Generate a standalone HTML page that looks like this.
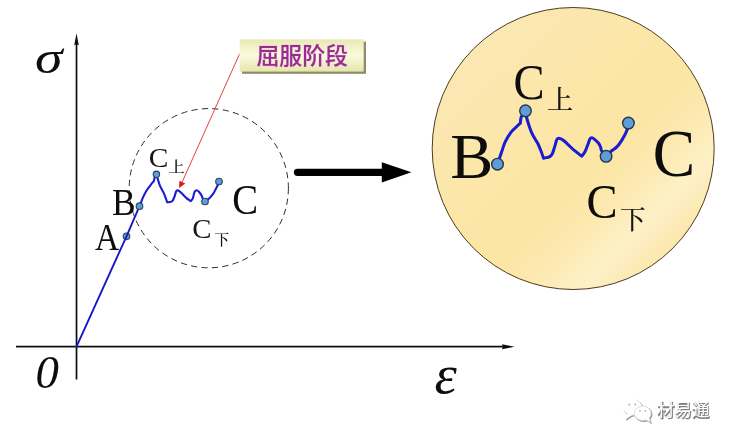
<!DOCTYPE html>
<html lang="zh-CN">
<head>
<meta charset="utf-8">
<title>屈服阶段</title>
<style>
html,body{margin:0;padding:0;background:#fff;}
body{width:734px;height:443px;overflow:hidden;position:relative;}
svg{position:absolute;left:0;top:0;display:block;}
.ser{font-family:"Liberation Serif","Noto Serif CJK SC",serif;}
.seri{font-family:"Liberation Serif","Noto Serif CJK SC",serif;font-style:italic;}
.cjk{font-family:"Noto Serif CJK SC","Liberation Serif",serif;font-weight:500;}
.sans{font-family:"Liberation Sans","Noto Sans CJK SC",sans-serif;}
</style>
</head>
<body>
<svg width="734" height="443" viewBox="0 0 734 443">
  <defs>
    <linearGradient id="gold" x1="0" y1="0" x2="1" y2="1">
      <stop offset="0" stop-color="#fbe8b6"/>
      <stop offset="0.22" stop-color="#fbe7b0"/>
      <stop offset="0.4" stop-color="#fce6a8"/>
      <stop offset="0.58" stop-color="#fce6a5"/>
      <stop offset="0.68" stop-color="#fdeab3"/>
      <stop offset="0.76" stop-color="#fef1c8"/>
      <stop offset="0.84" stop-color="#fce8b0"/>
      <stop offset="0.92" stop-color="#f9dd98"/>
      <stop offset="1" stop-color="#f6d88c"/>
    </linearGradient>
    <linearGradient id="box" x1="0" y1="0" x2="0" y2="1">
      <stop offset="0" stop-color="#e9e8b4"/>
      <stop offset="0.5" stop-color="#fbfbdc"/>
      <stop offset="1" stop-color="#e6e4ad"/>
    </linearGradient>
    <filter id="soft" x="-5%" y="-5%" width="110%" height="110%"><feGaussianBlur stdDeviation="0.35"/></filter>
  </defs>
  <rect width="734" height="443" fill="#ffffff"/>

  <!-- big circle -->
  <circle cx="573.2" cy="148.5" r="141" fill="url(#gold)" stroke="#4a3d1c" stroke-width="1"/>

  <!-- axes -->
  <g filter="url(#soft)">
  <line x1="76.5" y1="44" x2="76.5" y2="379.5" stroke="#111" stroke-width="1.7"/>
  <path d="M76.5 33.2 L78.8 45.2 L76.5 44.2 L74.2 45.2 Z" fill="#111"/>
  <line x1="16" y1="346.6" x2="503" y2="346.6" stroke="#111" stroke-width="1.7"/>
  <path d="M514.5 346.7 L502 349.2 L502.8 346.7 L502 344.2 Z" fill="#111"/>

  <!-- dashed circle -->
  <circle cx="208.8" cy="188.2" r="79.6" fill="none" stroke="#2c2c2c" stroke-width="1" stroke-dasharray="6.2 4.3"/>

  <!-- small curve -->
  <circle cx="126.5" cy="236.3" r="3.3" fill="#5e9dd6" stroke="#2b4560" stroke-width="1.1"/>
  <path d="M76.5 346.6 L126.5 236.3 L139.5 206.2" fill="none" stroke="#1a18c4" stroke-width="1.9" stroke-linecap="round"/>
  <path id="c1" d="M139.5 206.2 C140.1 204.8 141.8 200.2 142.9 197.7 C144.0 195.2 145.0 193.2 146.3 191.0 C147.6 188.8 149.6 186.4 150.8 184.8 C152.0 183.2 153.2 181.9 153.7 181.3 C153.9 180.7 154.4 178.5 154.8 177.4 C155.2 176.3 156.1 175.1 156.4 174.6 C156.6 175.2 157.0 176.7 157.6 178.5 C158.2 180.3 158.8 182.9 159.8 185.3 C160.8 187.8 162.8 190.9 163.8 193.2 C164.8 195.5 165.4 197.4 166.0 198.9 C166.6 200.4 167.0 201.7 167.2 202.3 C167.8 202.2 170.2 202.0 171.1 201.7 C172.0 201.4 172.5 200.8 172.8 200.6 C173.1 199.9 174.1 197.9 174.6 196.4 C175.1 194.9 175.6 192.5 176.1 191.5 C176.6 190.5 176.8 190.1 177.6 190.3 C178.4 190.5 179.8 191.5 181.2 192.8 C182.6 194.1 184.6 196.5 186.2 197.9 C187.8 199.3 190.0 200.6 190.8 201.2 C191.1 200.7 192.2 199.9 192.8 198.4 C193.4 196.9 193.8 193.7 194.4 192.3 C195.0 191.0 195.7 190.4 196.4 190.3 C197.2 190.2 198.1 191.0 198.9 191.8 C199.8 192.7 200.8 194.2 201.5 195.4 C202.2 196.6 202.4 197.9 203.0 198.9 C203.6 199.9 204.7 201.1 205.0 201.5 C205.7 201.0 207.8 199.7 209.1 198.4 C210.4 197.1 211.9 195.6 213.1 193.9 C214.3 192.2 215.3 189.9 216.2 188.3 C217.0 186.7 217.7 185.3 218.2 184.2 C218.7 183.1 218.9 181.9 219.0 181.5" fill="none" stroke="#1a1ad4" stroke-width="2.1" stroke-linejoin="round" stroke-linecap="round"/>
  <g fill="#5e9dd6" stroke="#2b4560" stroke-width="1.1">
    <circle cx="139.5" cy="206.2" r="3.3"/>
    <circle cx="156.4" cy="174.3" r="3.2"/>
    <circle cx="205" cy="201.5" r="3.3"/>
    <circle cx="219" cy="181.5" r="3.3"/>
  </g>

  <!-- red pointer -->
  <line x1="239.7" y1="53.6" x2="182.2" y2="182" stroke="#e62a2a" stroke-width="0.9"/>
  <path d="M179.1 187.9 L179.4 180.8 L185.3 183.5 Z" fill="#e01818"/>

  <!-- thick arrow -->
  <line x1="297.5" y1="172.3" x2="385" y2="172.3" stroke="#000" stroke-width="7.3" stroke-linecap="round"/>
  <path d="M381.8 162.3 L411.4 172.3 L381.8 182.4 Z" fill="#000"/>

  <!-- big curve -->
  <path d="M497.5 164.2 C498.2 162.1 500.3 155.7 501.6 151.9 C502.9 148.2 503.7 145.0 505.3 141.7 C506.9 138.4 509.2 134.7 511.1 132.1 C513.1 129.5 515.5 127.8 517.0 126.3 C518.5 124.8 519.8 123.7 520.4 123.2 C520.5 122.1 520.5 118.7 521.3 116.7 C522.1 114.8 524.6 112.4 525.3 111.5 C525.5 112.3 525.6 113.9 526.3 116.5 C527.0 119.1 528.5 124.0 529.5 127.0 C530.5 130.0 531.0 131.6 532.4 134.3 C533.8 137.1 536.4 140.8 537.8 143.5 C539.2 146.2 539.8 148.1 540.8 150.5 C541.8 152.9 543.0 156.9 543.5 158.2 C544.6 157.9 548.4 157.4 549.9 156.6 C551.4 155.8 552.1 153.9 552.6 153.3 C553.0 152.1 554.2 148.3 554.9 146.1 C555.6 143.9 556.1 141.2 556.7 139.9 C557.4 138.6 557.6 138.1 558.8 138.2 C559.9 138.3 561.4 138.8 563.6 140.5 C565.9 142.2 569.3 146.0 572.3 148.6 C575.3 151.2 580.0 154.9 581.6 156.2 C582.1 155.5 583.7 154.2 584.7 152.3 C585.7 150.4 587.0 147.0 587.8 144.8 C588.6 142.6 589.1 140.5 589.7 139.3 C590.4 138.1 590.9 137.8 591.7 137.8 C592.5 137.8 593.5 138.4 594.6 139.3 C595.7 140.2 597.4 141.8 598.4 143.0 C599.4 144.2 599.8 145.3 600.4 146.7 C601.0 148.0 600.8 149.5 601.7 151.1 C602.7 152.7 605.4 155.4 606.1 156.3 C606.9 155.5 609.2 152.9 611.0 151.3 C612.8 149.7 615.2 148.6 617.1 146.6 C619.0 144.6 620.8 141.9 622.5 139.1 C624.2 136.3 626.3 132.3 627.3 129.6 C628.3 126.9 628.2 124.2 628.4 123.1" fill="none" stroke="#1a1ad0" stroke-width="3" stroke-linejoin="round" stroke-linecap="round"/>
  <g fill="#5e9dd6" stroke="#22384f" stroke-width="1.4">
    <circle cx="497.5" cy="164.2" r="5.8"/>
    <circle cx="525.5" cy="110.8" r="5.8"/>
    <circle cx="606.1" cy="156.3" r="5.8"/>
    <circle cx="628.4" cy="123.1" r="5.8"/>
  </g>
  </g>

  <!-- label box -->
  <rect x="242" y="41.6" width="124" height="32.2" fill="#8e8d66"/>
  <rect x="239.7" y="39.3" width="124" height="32.3" fill="url(#box)"/>
  <text class="sans" x="302.2" y="64" font-size="22.9" font-weight="500" fill="#9a2a90" text-anchor="middle" stroke="#e3c3df" stroke-width="0.8" paint-order="stroke" filter="url(#soft)">屈服阶段</text>

  <!-- axis labels -->
  <g filter="url(#soft)">
<!--TEXT-START-->
  <text class="seri" font-size="100" fill="#0a0a0a" transform="translate(35.04 72.74) scale(0.5574 0.4720)">σ</text>
  <text class="seri" font-size="100" fill="#0a0a0a" transform="translate(35.39 387.55) scale(0.4680 0.4638)">0</text>
  <text class="seri" font-size="100" fill="#0a0a0a" transform="translate(434.39 392.97) scale(0.5652 0.5468)">ε</text>
  <text class="ser" font-size="100" fill="#0a0a0a" transform="translate(94.97 250.40) scale(0.3347 0.3757)">A</text>
  <text class="ser" font-size="100" fill="#0a0a0a" transform="translate(111.88 214.69) scale(0.3546 0.3725)">B</text>
  <text class="ser" font-size="100" fill="#0a0a0a" transform="translate(232.21 214.29) scale(0.3872 0.4182)">C</text>
  <text class="ser" font-size="100" fill="#151515" transform="translate(148.69 166.93) scale(0.2943 0.2783)">C</text>
  <text class="cjk" font-size="100" fill="#151515" transform="translate(168.21 171.71) scale(0.1676 0.1485)">上</text>
  <text class="ser" font-size="100" fill="#151515" transform="translate(192.32 238.44) scale(0.2873 0.2709)">C</text>
  <text class="cjk" font-size="100" fill="#151515" transform="translate(214.59 244.77) scale(0.1477 0.1469)">下</text>
  <text class="ser" font-size="100" fill="#0a0a0a" transform="translate(450.34 177.91) scale(0.6448 0.6371)">B</text>
  <text class="ser" font-size="100" fill="#0a0a0a" transform="translate(652.79 176.44) scale(0.6359 0.6787)">C</text>
  <text class="ser" font-size="100" fill="#0a0a0a" transform="translate(513.39 99.41) scale(0.4660 0.4986)">C</text>
  <text class="cjk" font-size="100" fill="#151515" transform="translate(546.92 108.91) scale(0.2622 0.2643)">上</text>
  <text class="ser" font-size="100" fill="#0a0a0a" transform="translate(586.59 218.32) scale(0.4660 0.4882)">C</text>
  <text class="cjk" font-size="100" fill="#151515" transform="translate(619.95 229.02) scale(0.2562 0.2567)">下</text>
<!--TEXT-END-->
  </g>

  <!-- watermark -->
  <defs>
    <filter id="wmsh" x="-20%" y="-20%" width="140%" height="140%">
      <feGaussianBlur stdDeviation="0.5"/>
    </filter>
  </defs>
  <g>
    <g filter="url(#wmsh)" fill="#9a9a9a" stroke="#9a9a9a" stroke-width="1.2" transform="translate(0.9 0.9)">
      <ellipse cx="632.5" cy="407.3" rx="9.2" ry="7.8"/>
      <path d="M627 414 L626 418.8 L631.5 415.2 Z"/>
      <ellipse cx="642.7" cy="413.3" rx="8.4" ry="7.2"/>
      <path d="M646 419.3 L650 422 L648.8 417.8 Z"/>
    </g>
    <g fill="#ffffff" stroke="#ffffff" stroke-width="0.6">
      <ellipse cx="632.5" cy="407.3" rx="9.2" ry="7.8"/>
      <path d="M627 414 L626 418.8 L631.5 415.2 Z"/>
      <ellipse cx="642.7" cy="413.3" rx="8.4" ry="7.2" stroke="#d8d8d8" stroke-width="0.8"/>
      <path d="M646 419.3 L650 422 L648.8 417.8 Z"/>
    </g>
    <g fill="#b0b0b0">
      <circle cx="629.3" cy="404.6" r="1"/><circle cx="635.3" cy="404.6" r="1"/>
      <circle cx="640" cy="410.8" r="0.9"/><circle cx="645.4" cy="410.8" r="0.9"/>
    </g>
    <text class="sans" x="657.4" y="416.7" font-size="17.6" font-weight="700" fill="#808080" stroke="#808080" stroke-width="0.5" filter="url(#wmsh)">材易通</text>
    <text class="sans" x="656.7" y="415.9" font-size="17.6" font-weight="400" fill="#ffffff">材易通</text>
  </g>
</svg>
</body>
</html>
